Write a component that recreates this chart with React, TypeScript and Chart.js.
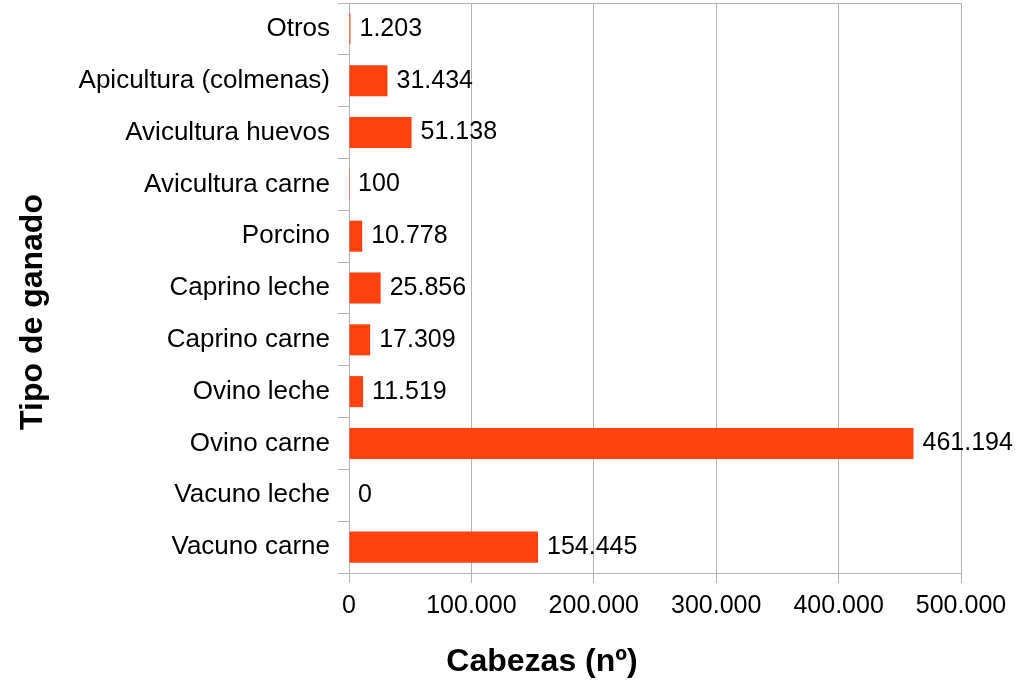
import React, { useEffect, useRef } from "react";
import { Chart, registerables } from "chart.js";

Chart.register(...registerables);

const categories = [
  "Otros",
  "Apicultura (colmenas)",
  "Avicultura huevos",
  "Avicultura carne",
  "Porcino",
  "Caprino leche",
  "Caprino carne",
  "Ovino leche",
  "Ovino carne",
  "Vacuno leche",
  "Vacuno carne",
];
const cabezas = [1203, 31434, 51138, 100, 10778, 25856, 17309, 11519, 461194, 0, 154445];
const xTicks = [0, 100000, 200000, 300000, 400000, 500000];
const xTitle = "Cabezas (nº)";
const yTitle = "Tipo de ganado";

const FONT = "'Liberation Sans', Arial, sans-serif";
const GRID = "#b3b3b3";
const BAR = "#ff420e";

const fmt = (n: number) => String(n).replace(/\B(?=(\d{3})+(?!\d))/g, ".");

const labelsPlugin = {
  id: "valueLabels",
  afterDatasetsDraw(chart: any) {
    const ctx = chart.ctx;
    const meta = chart.getDatasetMeta(0);
    ctx.save();
    ctx.font = `25px ${FONT}`;
    ctx.fillStyle = "#000";
    ctx.textAlign = "left";
    ctx.textBaseline = "middle";
    meta.data.forEach((el: any, i: number) => {
      ctx.fillText(fmt(cabezas[i]), el.x + 9, el.y);
    });
    ctx.restore();
  },
};

const framePlugin = {
  id: "topFrame",
  afterDraw(chart: any) {
    const ctx = chart.ctx;
    const a = chart.chartArea;
    ctx.save();
    ctx.strokeStyle = GRID;
    ctx.lineWidth = 1;
    ctx.beginPath();
    const y = Math.round(a.top) + 0.5;
    ctx.moveTo(a.left, y);
    ctx.lineTo(a.right, y);
    ctx.stroke();
    ctx.restore();
  },
};

const titlesPlugin = {
  id: "axisTitles",
  afterDraw(chart: any) {
    const ctx = chart.ctx;
    ctx.save();
    ctx.font = `bold 32px ${FONT}`;
    ctx.fillStyle = "#000";
    ctx.textAlign = "center";
    ctx.textBaseline = "middle";
    ctx.fillText(xTitle, 542, 662);
    ctx.translate(33, 312);
    ctx.rotate(-Math.PI / 2);
    ctx.fillText(yTitle, 0, 0);
    ctx.restore();
  },
};

export default function App() {
  const ref = useRef<HTMLCanvasElement>(null);
  useEffect(() => {
    const chart = new Chart(ref.current!, {
      type: "bar",
      data: {
        labels: categories,
        datasets: [
          {
            data: cabezas,
            backgroundColor: BAR,
            categoryPercentage: 1,
            barPercentage: 0.6,
          },
        ],
      },
      options: {
        indexAxis: "y",
        animation: false,
        responsive: false,
        layout: { padding: { top: 3, right: 71, left: 0, bottom: 0 } },
        plugins: { legend: { display: false }, tooltip: { enabled: false } },
        scales: {
          x: {
            type: "linear",
            position: "bottom",
            min: 0,
            max: 500000,
            afterBuildTicks: (s: any) => {
              s.ticks = xTicks.map((v) => ({ value: v }));
            },
            afterFit: (s: any) => {
              s.height = 107;
            },
            grid: { color: GRID, tickLength: 10, tickColor: GRID },
            border: { display: true, color: GRID },
            ticks: {
              color: "#000",
              font: { family: FONT, size: 25 },
              padding: 8,
              maxRotation: 0,
              callback: (v: any) => fmt(Number(v)),
            },
          },
          y: {
            type: "category",
            offset: true,
            afterFit: (s: any) => {
              s.width = 349;
              s.paddingTop = 0;
              s.paddingBottom = 0;
            },
            grid: {
              drawOnChartArea: false,
              offset: true,
              tickLength: 11,
              color: GRID,
              tickColor: GRID,
            },
            border: { display: true, color: GRID },
            ticks: {
              color: "#000",
              font: { family: FONT, size: 26 },
              padding: 8,
              autoSkip: false,
            },
          },
        },
      },
      plugins: [labelsPlugin, framePlugin, titlesPlugin],
    });
    return () => chart.destroy();
  }, []);
  return (
    <div style={{ position: "absolute", left: 0, top: 0, width: 1032, height: 680, background: "#fff" }}>
      <canvas ref={ref} width={1032} height={680} />
    </div>
  );
}
